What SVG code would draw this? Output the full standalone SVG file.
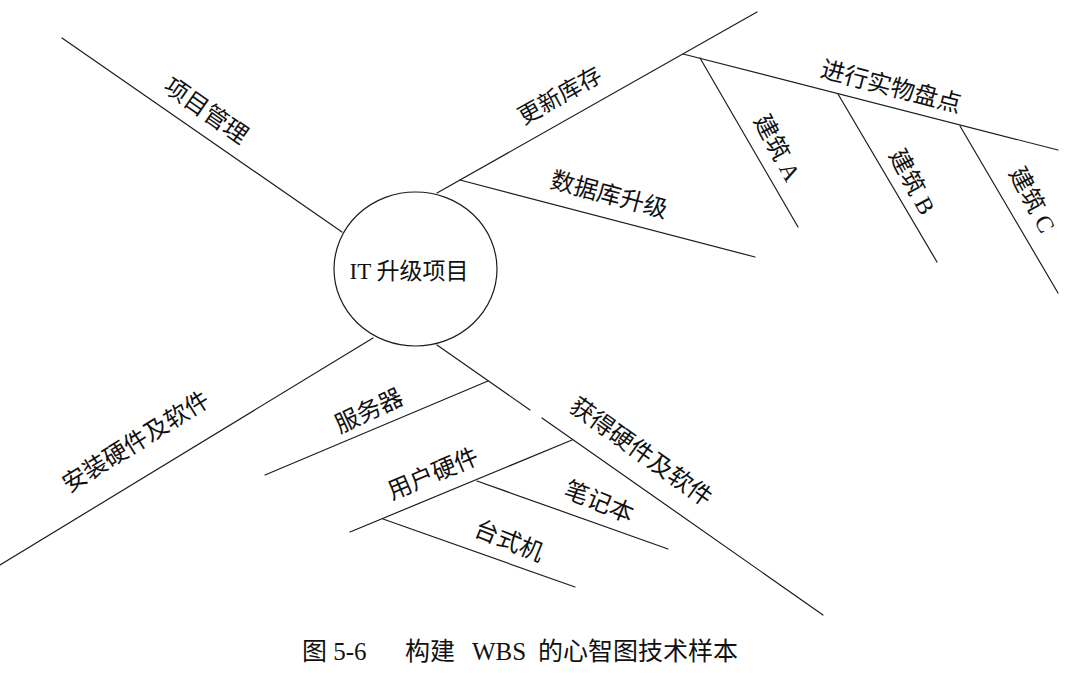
<svg xmlns="http://www.w3.org/2000/svg" width="1073" height="680" viewBox="0 0 1073 680">
<style>
.ln{fill:none;stroke:#1c1c1c;stroke-width:1.2;stroke-linecap:round}
.lb{font-family:"Liberation Serif","Noto Sans CJK SC",serif;font-size:24px;fill:#111;text-anchor:middle;dominant-baseline:central}
.cap{font-family:"Liberation Serif","Noto Sans CJK SC",serif;font-size:25px;fill:#111}
</style>
<rect width="1073" height="680" fill="#fff"/>
<g id="connectors">
<path class="ln" d="M62,38 L342,232"/>
<path class="ln" d="M437,193 L757,12"/>
<path class="ln" d="M460,180 L755,257"/>
<path class="ln" d="M683,54 L1058,150"/>
<path class="ln" d="M700,58 L798,227"/>
<path class="ln" d="M838,94 L937,262"/>
<path class="ln" d="M960,126 L1058,293"/>
<path class="ln" d="M437,345 L530,410 M542,418 L823,615"/>
<path class="ln" d="M488,381 L265,475"/>
<path class="ln" d="M572,440 L350,532"/>
<path class="ln" d="M477,481 L668,549"/>
<path class="ln" d="M383,519 L575,587"/>
<path class="ln" d="M373,338 L0,565"/>
</g>
<g id="root">
<ellipse cx="415.5" cy="269" rx="81.5" ry="77" fill="#fff" stroke="#1c1c1c" stroke-width="1.2"/>
<text class="lb" x="409" y="271" style="font-size:23px">IT 升级项目</text>
</g>
<g id="n-pm"><text class="lb" transform="rotate(35 206 111)" x="206" y="111">项目管理</text></g>
<g id="n-inv"><text class="lb" transform="rotate(-29.5 560 96)" x="560" y="96" style="font-size:23px">更新库存</text></g>
<g id="n-db"><text class="lb" transform="rotate(15 609 195)" x="609" y="195">数据库升级</text></g>
<g id="n-count"><text class="lb" transform="rotate(14.6 891 87)" x="891" y="87">进行实物盘点</text></g>
<g id="n-a"><text class="lb" transform="rotate(62 777 148)" x="777" y="148">建筑 A</text></g>
<g id="n-b"><text class="lb" transform="rotate(62 912 182)" x="912" y="182">建筑 B</text></g>
<g id="n-c"><text class="lb" transform="rotate(62 1032 200)" x="1032" y="200">建筑 C</text></g>
<g id="n-get"><text class="lb" transform="rotate(35.5 641 452)" x="641" y="452">获得硬件及软件</text></g>
<g id="n-srv"><text class="lb" transform="rotate(-25 369 411)" x="369" y="411">服务器</text></g>
<g id="n-user"><text class="lb" transform="rotate(-23 433 474)" x="433" y="474">用户硬件</text></g>
<g id="n-nb"><text class="lb" transform="rotate(22 599 502)" x="599" y="502">笔记本</text></g>
<g id="n-desk"><text class="lb" transform="rotate(22 509 541)" x="509" y="541">台式机</text></g>
<g id="n-inst"><text class="lb" transform="rotate(-32 136 442)" x="136" y="442">安装硬件及软件</text></g>
<g id="caption">
<text class="cap" y="660"><tspan x="302">图 5-6</tspan><tspan x="405">构建</tspan><tspan x="472">WBS</tspan><tspan x="538">的心智图技术样本</tspan></text>
</g>
</svg>
